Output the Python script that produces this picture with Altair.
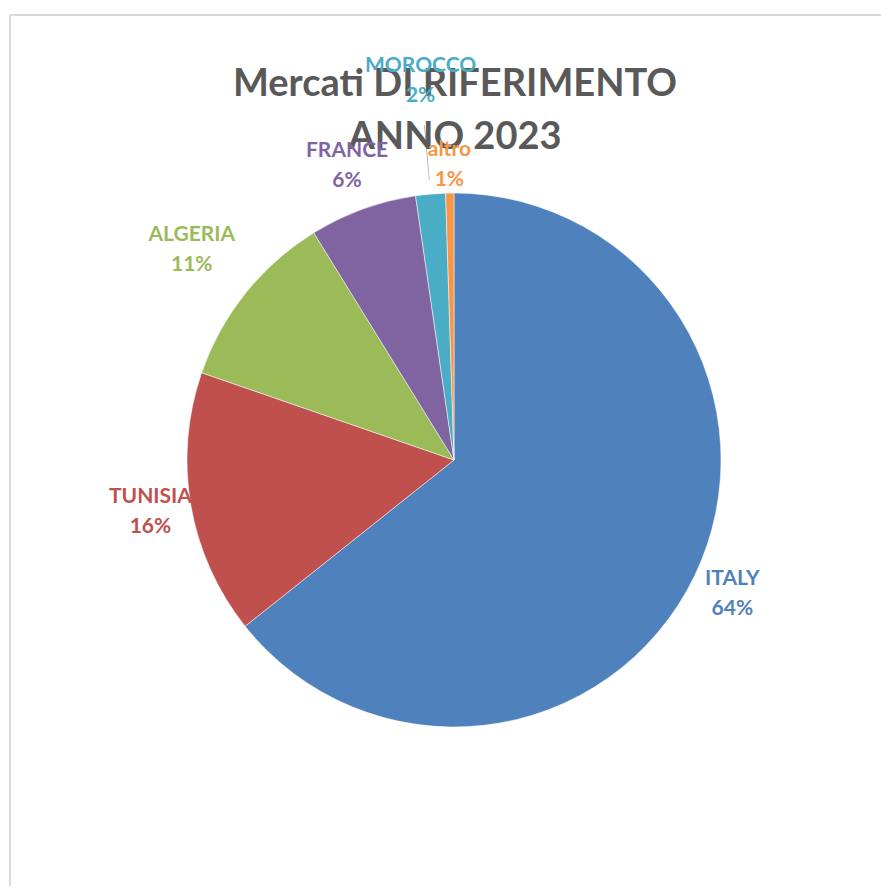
import altair as alt
import pandas as pd

labels = ["ITALY", "TUNISIA", "ALGERIA", "FRANCE", "MOROCCO", "altro"]
values = [64.3, 16.0, 10.9, 6.5, 1.8, 0.5]
pct_text = ["64%", "16%", "11%", "6%", "2%", "1%"]
colors = ["#4F81BD", "#C0504D", "#9BBB59", "#8064A2", "#4BACC6", "#F79646"]
title_lines = ["Mercati DI RIFERIMENTO", "ANNO 2023"]

df = pd.DataFrame({
    "label": labels,
    "value": values,
    "pct": pct_text,
    "idx": list(range(len(labels))),
})

FONT = "Lato"
CX, CY = 446, 452
R = 267
total = sum(values)
theta_scale = alt.Scale(domain=[0, total], range=[0, 6.283185307179586])
color_scale = alt.Scale(domain=labels, range=colors)

# label distance from centre (pixels), per category
label_r = {"ITALY": 309, "TUNISIA": 308, "ALGERIA": 336, "FRANCE": 313, "MOROCCO": 380, "altro": 295}
expr = "0"
for k, v in reversed(list(label_r.items())):
    expr = f"datum.label == '{k}' ? {v} : ({expr})"

base = alt.Chart(df).transform_window(
    cum="sum(value)", sort=[alt.SortField("idx")]
).transform_calculate(
    start="datum.cum - datum.value",
    mid="datum.cum - datum.value / 2",
    lr=expr,
    lines="[datum.label, datum.pct]",
)

pie = base.mark_arc(stroke="white", strokeWidth=0.5).encode(
    theta=alt.Theta("start:Q", scale=theta_scale),
    theta2="cum:Q",
    color=alt.Color("label:N", scale=color_scale, legend=None),
    x=alt.value(CX),
    y=alt.value(CY),
    radius=alt.value(R),
)

leader = base.transform_filter("datum.label == 'MOROCCO'").transform_calculate(
    a0="datum.mid - 0.02", a1="datum.mid + 0.02"
).mark_arc(color="#a6a6a6").encode(
    theta=alt.Theta("a0:Q", scale=theta_scale),
    theta2="a1:Q",
    x=alt.value(CX),
    y=alt.value(CY),
    radius=alt.value(336),
    radius2=alt.value(281),
)

labels_layer = base.mark_text(
    font=FONT, fontSize=21, fontWeight="bold", lineHeight=30,
    align="center", baseline="middle", dy=-15,
).encode(
    theta=alt.Theta("mid:Q", scale=theta_scale),
    radius=alt.Radius("lr:Q", scale=None),
    text="lines:N",
    color=alt.Color("label:N", scale=color_scale, legend=None),
    x=alt.value(CX),
    y=alt.value(CY),
)

one = alt.Data(values=[{"t": 1}])
title = alt.Chart(one).mark_text(
    font=FONT, fontSize=38, fontWeight="bold", color="#595959",
    lineHeight=53, align="center", baseline="middle",
).encode(
    x=alt.value(447), y=alt.value(77), text=alt.value(title_lines)
)

vline = alt.Chart(one).mark_rule(color="#d9d9d9", strokeWidth=2).encode(
    x=alt.value(2), y=alt.value(7), y2=alt.value(900)
)
hline = alt.Chart(one).mark_rule(color="#d9d9d9", strokeWidth=2).encode(
    y=alt.value(7), x=alt.value(2), x2=alt.value(900)
)

chart = alt.layer(vline, hline, pie, leader, title, labels_layer).properties(
    width=873, height=878, padding=0, autosize=alt.AutoSizeParams(type="none"),
    background="white",
).configure_view(stroke=None)

chart.save("out.html", embed_options={"renderer": "svg", "actions": False})
